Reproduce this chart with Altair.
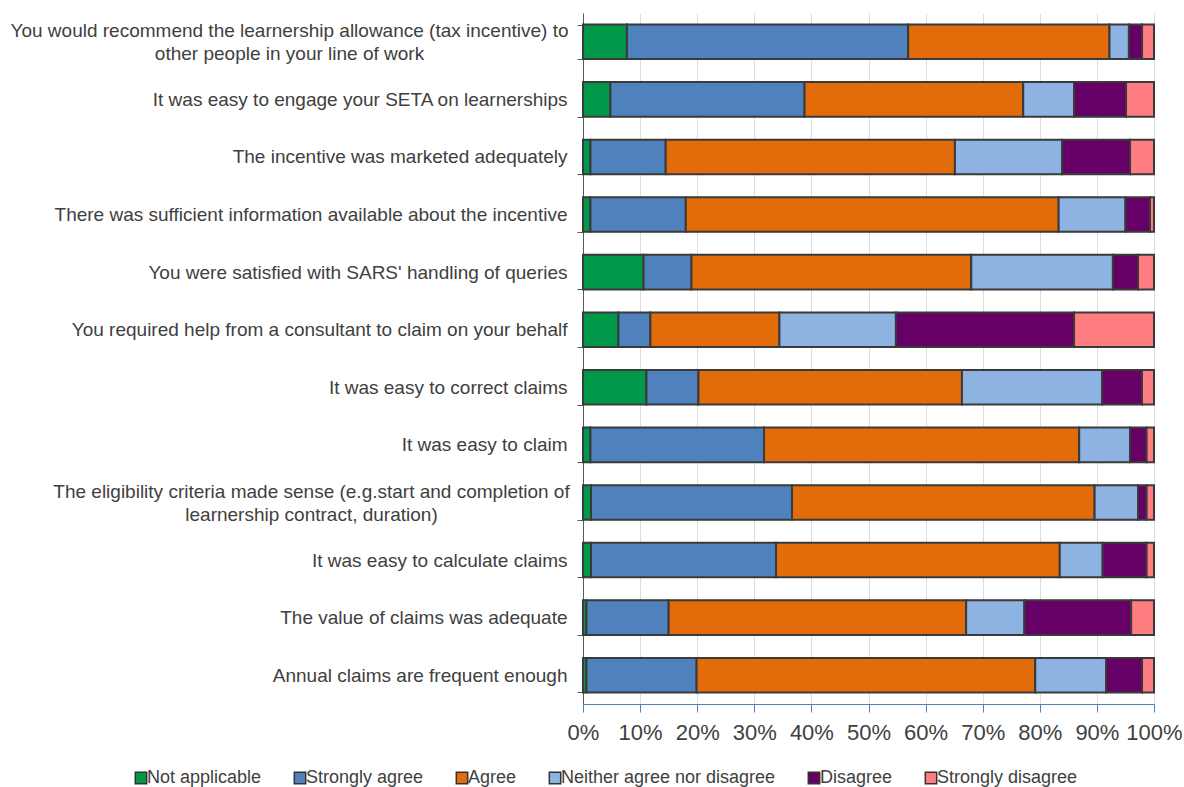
import altair as alt
import pandas as pd

categories = [
    "You would recommend the learnership allowance (tax incentive) to|other people in your line of work",
    "It was easy to engage your SETA on learnerships",
    "The incentive was marketed adequately",
    "There was sufficient information available about the incentive",
    "You were satisfied with SARS' handling of queries",
    "You required help from a consultant to claim on your behalf",
    "It was easy to correct claims",
    "It was easy to claim",
    "The eligibility criteria made sense (e.g.start and completion of|learnership contract, duration)",
    "It was easy to calculate claims",
    "The value of claims was adequate",
    "Annual claims are frequent enough",
]

series_names = ["Not applicable", "Strongly agree", "Agree",
                "Neither agree nor disagree", "Disagree", "Strongly disagree"]

not_applicable = [7.7, 4.8, 1.3, 1.3, 10.6, 6.2, 11.1, 1.3, 1.4, 1.4, 0.6, 0.6]
strongly_agree = [49.3, 34.0, 13.2, 16.7, 8.4, 5.6, 9.1, 30.4, 35.2, 32.4, 14.4, 19.3]
agree = [35.3, 38.3, 50.7, 65.3, 49.0, 22.6, 46.1, 55.2, 53.0, 49.7, 52.1, 59.3]
neither = [3.4, 8.9, 18.8, 11.7, 24.8, 20.4, 24.5, 8.9, 7.6, 7.5, 10.2, 12.4]
disagree = [2.3, 9.1, 11.9, 4.3, 4.4, 31.2, 7.0, 2.9, 1.5, 7.7, 18.7, 6.3]
strongly_disagree = [2.1, 4.9, 4.2, 0.7, 2.8, 14.0, 2.1, 1.3, 1.3, 1.3, 4.0, 2.1]

colors = ["#00994a", "#4f81bd", "#e36c0a", "#8db3e2", "#660066", "#ff7c80"]

series_values = [not_applicable, strongly_agree, agree, neither, disagree, strongly_disagree]

rows = []
for si, (name, vals) in enumerate(zip(series_names, series_values)):
    for ci, cat in enumerate(categories):
        rows.append({"category": cat, "series": name, "value": vals[ci], "order": si})
df = pd.DataFrame(rows)

is_multi = "isString(datum.value) && indexof(datum.value, '|') >= 0"
is_first = "isString(datum.value) && indexof(datum.value, 'recommend') >= 0"
is_elig = "isString(datum.value) && indexof(datum.value, 'eligibility') >= 0"

label_align = {"condition": {"test": is_multi, "value": "center"}, "value": "right"}
label_padding = {
    "condition": [
        {"test": is_first, "value": 288},
        {"test": is_elig, "value": 266},
    ],
    "value": 10,
}
label_offset = {"condition": {"test": is_multi, "value": -11}, "value": 0}

chart = alt.Chart(df).mark_bar(
    stroke="#3a3a3a", strokeWidth=2
).encode(
    y=alt.Y(
        "category:N",
        sort=categories,
        title=None,
        scale=alt.Scale(paddingInner=0.4, paddingOuter=0.2),
        axis=alt.Axis(
            labelExpr="split(datum.label, '|')",
            labelFont="Liberation Sans",
            labelFontSize=19,
            labelColor="#404040",
            labelLimit=700,
            labelLineHeight=23,
            labelAlign=label_align,
            labelPadding=label_padding,
            labelOffset=label_offset,
            tickBand="extent",
            tickSize=6,
            tickColor="#595959",
            domainColor="#595959",
            domainWidth=1,
            grid=False,
        ),
    ),
    x=alt.X(
        "value:Q",
        stack="normalize",
        title=None,
        scale=alt.Scale(domain=[0, 1], nice=False),
        axis=alt.Axis(
            format=".0%",
            values=[i / 10 for i in range(11)],
            labelFont="Liberation Sans",
            labelFontSize=22,
            labelColor="#404040",
            labelPadding=10,
            tickSize=8,
            tickColor="#4f81bd",
            domainColor="#4f81bd",
            gridColor="#dcdcdc",
            labelFlush=False,
            labelOverlap=False,
        ),
    ),
    color=alt.Color(
        "series:N",
        sort=series_names,
        scale=alt.Scale(domain=series_names, range=colors),
        legend=alt.Legend(
            title=None,
            orient="none",
            direction="horizontal",
            legendX=-451,
            legendY=756,
            symbolType="square",
            symbolSize=130,
            symbolStrokeColor="#333333",
            symbolStrokeWidth=1.5,
            labelFont="Liberation Sans",
            labelFontSize=18,
            labelColor="#404040",
            labelOffset={"expr": "-3"},
            columnPadding=29,
            labelLimit=400,
        ),
    ),
    order=alt.Order("order:Q"),
).properties(
    width=571,
    height=691,
    autosize=alt.AutoSizeParams(type="none"),
    padding={"left": 583, "top": 13, "right": 30, "bottom": 83},
    background="white",
).configure_view(stroke=None)

chart.save("out.html", embed_options={"renderer": "svg", "actions": False})
